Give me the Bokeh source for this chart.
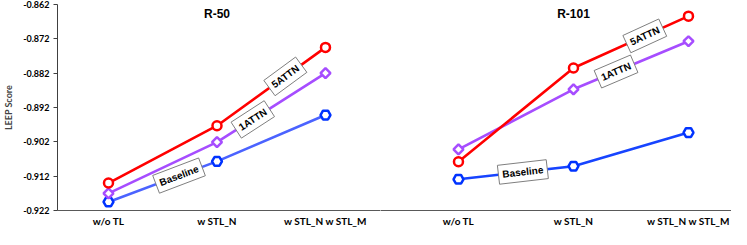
import math
from bokeh.plotting import figure
from bokeh.layouts import row
from bokeh.models import Range1d, FixedTicker, Label
from bokeh.embed import file_html
from bokeh.resources import INLINE

# ---------------- data ----------------
categories = ["w/o TL", "w STL_N", "w STL_N w STL_M"]
series_names = ["Baseline", "1ATTN", "5ATTN"]
panel_titles = ["R-50", "R-101"]

r50_baseline = [-0.9195, -0.9077, -0.8942]
r50_1attn = [-0.9170, -0.9021, -0.8820]
r50_5attn = [-0.9140, -0.8973, -0.8745]

r101_baseline = [-0.9129, -0.9091, -0.8993]
r101_1attn = [-0.9042, -0.8867, -0.8727]
r101_5attn = [-0.9078, -0.8805, -0.8654]

y_ticks = [-0.922, -0.912, -0.902, -0.892, -0.882, -0.872, -0.862]

# ---------------- style ----------------
TICK_FONT = "Lato"
BOX_FONT = "Liberation Sans"
RED = "#FF0000"
PURPLE = "#A64DFF"
BLUE = "#0033FF"
H = 229
TOP, BOTTOM = 4, 15
Y0, Y1 = -0.922, -0.862
FRAME_H = H - TOP - BOTTOM
TITLE_Y = -0.8649

idx = list(range(len(categories)))


def make_panel(width, left_border, xr, show_y, title, data, base_line_color, label_spec):
    p = figure(width=width, height=H, output_backend="svg", toolbar_location=None,
               x_range=Range1d(*xr), y_range=Range1d(Y0, Y1),
               min_border_left=left_border, min_border_right=0,
               min_border_top=TOP, min_border_bottom=BOTTOM)
    p.outline_line_color = None
    p.grid.visible = False
    p.background_fill_color = "white"
    p.border_fill_color = "white"

    # x axis
    xa = p.xaxis[0]
    xa.ticker = FixedTicker(ticks=idx)
    xa.major_label_overrides = {i: c for i, c in zip(idx, categories)}
    xa.major_tick_line_color = None
    xa.major_tick_out = 0
    xa.major_tick_in = 0
    xa.minor_tick_line_color = None
    xa.axis_line_color = "#595959"
    xa.axis_line_width = 1
    xa.major_label_text_font = TICK_FONT
    xa.major_label_text_font_style = "bold"
    xa.major_label_text_font_size = "10px"
    xa.major_label_text_color = "#000000"
    xa.major_label_standoff = 4

    ya = p.yaxis[0]
    if show_y:
        ya.ticker = FixedTicker(ticks=y_ticks)
        ya.major_label_overrides = {t: f"{t:.3f}" for t in y_ticks}
        ya.minor_tick_line_color = None
        ya.major_tick_in = 0
        ya.major_tick_out = 4
        ya.major_tick_line_color = "#404040"
        ya.axis_line_color = "#404040"
        ya.major_label_text_font = TICK_FONT
        ya.major_label_text_font_style = "bold"
        ya.major_label_text_font_size = "9px"
        ya.major_label_text_color = "#000000"
        ya.major_label_standoff = 4
        ya.axis_label = "LEEP Score"
        ya.axis_label_text_font = TICK_FONT
        ya.axis_label_text_font_style = "bold"
        ya.axis_label_text_font_size = "9px"
        ya.axis_label_standoff = 6
    else:
        ya.visible = False

    baseline, one, five = data
    # lines
    p.line(idx, baseline, line_color=base_line_color, line_width=2.6)
    p.line(idx, one, line_color=PURPLE, line_width=2.6)
    p.line(idx, five, line_color=RED, line_width=2.6)
    # markers
    p.scatter(idx, baseline, marker="hex", size=10, line_color=BLUE, line_width=2.5,
              fill_color="white")
    p.scatter(idx, one, marker="square", angle=math.pi / 4, size=7, line_color=PURPLE,
              line_width=2.5, fill_color="white")
    p.scatter(idx, five, marker="circle", size=9, line_color=RED, line_width=2.5,
              fill_color="white")

    # title
    p.add_layout(Label(x=1, y=TITLE_Y, text=title,
                       text_font=BOX_FONT, text_font_style="bold", text_font_size="12px",
                       text_align="center", text_baseline="middle", text_color="#000000"))

    # series labels placed on their lines
    frame_w = width - left_border
    pxx = frame_w / (xr[1] - xr[0])
    pxy = FRAME_H / (Y1 - Y0)
    for name, vals, seg, frac in label_spec:
        x0, x1 = seg, seg + 1
        v0, v1 = vals[seg], vals[seg + 1]
        lx = x0 + frac * (x1 - x0)
        ly = v0 + frac * (v1 - v0)
        ang = math.atan2((v1 - v0) * pxy, (x1 - x0) * pxx)
        p.add_layout(Label(x=lx, y=ly, text=name, angle=ang,
                           text_font=BOX_FONT, text_font_style="bold",
                           text_font_size="10px", text_color="#000000",
                           text_align="center", text_baseline="middle",
                           background_fill_color="white", border_line_color="#7F7F7F",
                           border_line_width=1, padding=4))
    return p


p1 = make_panel(380, 57, (-0.47, 2.507), True, panel_titles[0],
                (r50_baseline, r50_1attn, r50_5attn), "#4B63FF",
                [(series_names[2], r50_5attn, 1, 0.63),
                 (series_names[1], r50_1attn, 1, 0.33),
                 (series_names[0], r50_baseline, 0, 0.65)])

p2 = make_panel(351, 0, (-0.678, 2.374), False, panel_titles[1],
                (r101_baseline, r101_1attn, r101_5attn), "#1744FF",
                [(series_names[2], r101_5attn, 1, 0.62),
                 (series_names[1], r101_1attn, 1, 0.37),
                 (series_names[0], r101_baseline, 0, 0.56)])

layout = row(p1, p2, spacing=0)
open("out.html", "w").write(file_html(layout, INLINE))
